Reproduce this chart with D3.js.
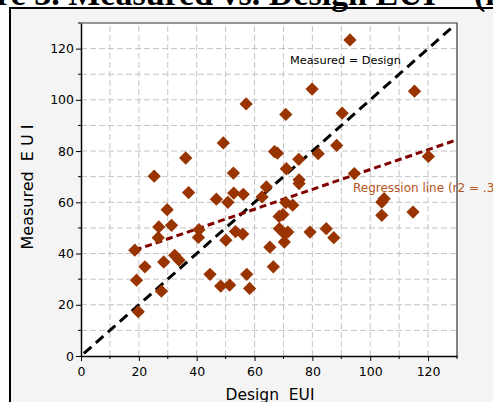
<!DOCTYPE html>
<html>
<head>
<meta charset="utf-8">
<script src="https://cdn.jsdelivr.net/npm/d3@7"></script>
<style>
  html, body { margin: 0; padding: 0; background: #fff; }
  svg { display: block; font-family: "DejaVu Sans", Verdana, sans-serif; }
</style>
</head>
<body>
<svg id="chart" width="493" height="402"></svg>
<script>
// Design EUI vs Measured EUI
const designEUI = [
    18.6, 19.2, 19.8, 22.1, 25.3, 26.7, 26.9, 27.8, 28.6, 29.8,
    31.3, 32.4, 33.9, 36.2, 37.2, 40.8, 40.6, 44.6, 46.8, 48.3,
    51.4, 49.2, 50.1, 50.8, 52.7, 52.8, 53.4, 55.9, 56.1, 57.1,
    57.3, 58.3, 62.6, 64.1, 65.3, 66.5, 66.9, 67.9, 68.5, 69.8,
    68.6, 70.3, 70.3, 71.5, 70.8, 73.2, 70.8, 71.0, 75.3, 75.4,
    75.4, 79.9, 79.2, 82.0, 84.8, 87.4, 88.4, 90.3, 93.0, 94.5,
    104.0, 104.0, 104.8, 114.8, 115.3, 120.1
];
const measuredEUI = [
    41.3, 29.6, 17.3, 34.8, 70.2, 46.2, 50.4, 25.3, 36.7, 57.1,
    51.0, 39.3, 37.4, 77.3, 63.8, 49.3, 46.3, 31.9, 61.2, 27.3,
    27.7, 83.2, 45.2, 60.0, 71.4, 63.6, 48.6, 47.6, 63.1, 98.4,
    31.9, 26.4, 62.1, 66.0, 42.5, 34.8, 79.8, 79.2, 54.5, 55.2,
    49.7, 47.8, 44.5, 48.4, 59.9, 58.9, 94.3, 73.1, 76.8, 68.8,
    67.3, 104.2, 48.4, 79.0, 49.7, 46.2, 82.2, 94.8, 123.4, 71.2,
    54.9, 60.1, 61.4, 56.2, 103.4, 77.9
];

// reference lines
const identityRange = [1, 128];
const regressionRange = [18.6, 130];
const regressionSlope = 0.387;
const regressionIntercept = 34.1;

const majorTicks = [0, 20, 40, 60, 80, 100, 120];
const minorTicks = [10, 30, 50, 70, 90, 110, 130];
const gridValues = d3.range(10, 131, 10);

const svg = d3.select('#chart');

// outer frame of the figure
svg.append('rect')
    .attr('x', 10).attr('y', 8)
    .attr('width', 500).attr('height', 420)
    .attr('fill', '#f4f4f4')
    .attr('stroke', '#000')
    .attr('stroke-width', 2);

// title, mostly cut off at the top of the picture
svg.append('text')
    .attr('x', 436).attr('y', 5)
    .attr('text-anchor', 'end')
    .style('font-family', '"Liberation Serif", serif')
    .style('font-weight', 'bold')
    .style('font-size', '34px')
    .text('Figure 3. Measured vs. Design EUI');
svg.append('text')
    .attr('x', 474).attr('y', 5)
    .style('font-family', '"Liberation Serif", serif')
    .style('font-weight', 'bold')
    .style('font-size', '34px')
    .text('(kBtu/sf)');

let x = d3.scaleLinear().domain([0, 130]).range([81, 457]);
let y = d3.scaleLinear().domain([0, 130]).range([356, 23]);

// plot area
svg.append('rect')
    .attr('x', x(0)).attr('y', y(130))
    .attr('width', x(130) - x(0)).attr('height', y(0) - y(130))
    .attr('fill', '#fff');

// dashed grid
let grid = svg.append('g').attr('class', 'grid')
    .attr('stroke', '#c4c4c4')
    .attr('stroke-width', 1)
    .attr('stroke-dasharray', '6,3');

grid.selectAll('line.v')
    .data(gridValues.slice(0, -1))
    .enter().append('line')
    .attr('class', 'v')
    .attr('x1', d => x(d)).attr('x2', d => x(d))
    .attr('y1', y(0)).attr('y2', y(130));

grid.selectAll('line.h')
    .data(gridValues.slice(0, -1))
    .enter().append('line')
    .attr('class', 'h')
    .attr('y1', d => y(d)).attr('y2', d => y(d))
    .attr('x1', x(0)).attr('x2', x(130));

// top / right border
svg.append('path')
    .attr('d', `M${x(0)},${y(130)}H${x(130)}V${y(0)}`)
    .attr('fill', 'none')
    .attr('stroke', '#333')
    .attr('stroke-width', 1.2);

// Measured = Design line
svg.append('line')
    .attr('x1', x(identityRange[0])).attr('y1', y(identityRange[0]))
    .attr('x2', x(identityRange[1])).attr('y2', y(identityRange[1]))
    .attr('stroke', '#000')
    .attr('stroke-width', 3)
    .attr('stroke-dasharray', '10,6');

// regression line
svg.append('line')
    .attr('x1', x(regressionRange[0]))
    .attr('y1', y(regressionIntercept + regressionSlope * regressionRange[0]))
    .attr('x2', x(regressionRange[1]))
    .attr('y2', y(regressionIntercept + regressionSlope * regressionRange[1]))
    .attr('stroke', '#800000')
    .attr('stroke-width', 3)
    .attr('stroke-dasharray', '7,4');

// the points
const diamond = d3.symbol().type(d3.symbolSquare).size(88);
svg.append('g').attr('class', 'points')
    .selectAll('path')
    .data(designEUI.map((d, i) => [d, measuredEUI[i]]))
    .enter().append('path')
    .attr('d', diamond)
    .attr('transform', d => `translate(${x(d[0])},${y(d[1])}) rotate(45)`)
    .attr('fill', '#993300');

// axes
let xAxis = svg.append('g')
    .attr('transform', `translate(0,${y(0)})`)
    .call(d3.axisBottom(x).tickValues(majorTicks).tickSize(5).tickPadding(6).tickSizeOuter(0));
xAxis.append('g')
    .selectAll('line')
    .data(minorTicks)
    .enter().append('line')
    .attr('x1', d => x(d)).attr('x2', d => x(d))
    .attr('y1', 0).attr('y2', 3)
    .attr('stroke', '#000');

let yAxis = svg.append('g')
    .attr('transform', `translate(${x(0)},0)`)
    .call(d3.axisLeft(y).tickValues(majorTicks).tickSize(5).tickPadding(2).tickSizeOuter(0));
yAxis.append('g')
    .selectAll('line')
    .data(minorTicks)
    .enter().append('line')
    .attr('y1', d => y(d)).attr('y2', d => y(d))
    .attr('x1', 0).attr('x2', -3)
    .attr('stroke', '#000');

svg.selectAll('.domain').attr('stroke', '#000').attr('stroke-width', 1.5);
svg.selectAll('.tick text')
    .style('font-family', '"DejaVu Sans", Verdana, sans-serif')
    .style('font-size', '12.5px')
    .attr('fill', '#000');

// labels
svg.append('text')
    .attr('x', 290).attr('y', 64)
    .style('font-size', '11.3px')
    .attr('fill', '#000')
    .text('Measured = Design');

svg.append('text')
    .attr('x', 353).attr('y', 192)
    .style('font-size', '12px')
    .attr('fill', '#b5541c')
    .text('Regression line (r2 = .34)');

svg.append('text')
    .attr('x', 270).attr('y', 400)
    .attr('text-anchor', 'middle')
    .style('font-size', '15.5px')
    .style('white-space', 'pre')
    .text('Design  EUI');

svg.append('text')
    .attr('transform', 'translate(33,187) rotate(-90)')
    .attr('text-anchor', 'middle')
    .style('font-size', '16px')
    .style('white-space', 'pre')
    .text('Measured  E U I');
</script>
</body>
</html>
